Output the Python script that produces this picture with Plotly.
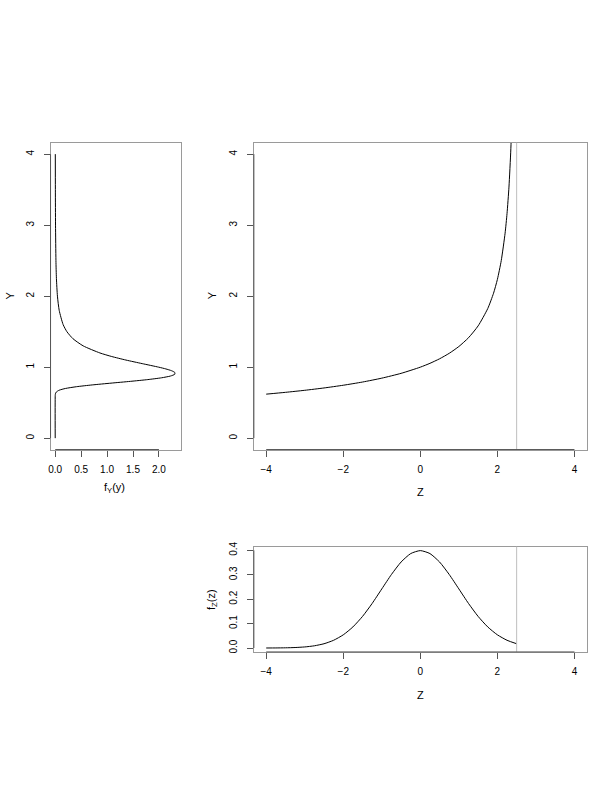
import plotly.graph_objects as go

# ---- data ----
# main panel: Y as a function of Z
z_main = [-4, -3.5, -3, -2.5, -2, -1.5, -1, -0.5, 0, 0.25, 0.5, 0.75, 1, 1.25, 1.5,
          1.75, 1.9, 2.0, 2.1, 2.2, 2.25, 2.3, 2.35, 2.4]
y_main = [0.620, 0.6455, 0.6742, 0.7071, 0.7454, 0.7906, 0.8452, 0.9129, 1.0, 1.0541,
          1.1180, 1.1952, 1.2910, 1.4142, 1.5811, 1.8257, 2.0412, 2.2361, 2.5, 2.8868,
          3.1623, 3.5355, 4.0825, 5.0]

# bottom panel: density of Z
z_dens = [-4, -3.75, -3.5, -3.25, -3, -2.75, -2.5, -2.25, -2, -1.75, -1.5, -1.25, -1,
          -0.75, -0.5, -0.25, 0, 0.25, 0.5, 0.75, 1, 1.25, 1.5, 1.75, 2, 2.25, 2.5]
fz_dens = [0.000134, 0.000353, 0.000873, 0.00203, 0.00443, 0.00909, 0.0175, 0.0317,
           0.0540, 0.0863, 0.1295, 0.1826, 0.2420, 0.3011, 0.3521, 0.3867, 0.3989,
           0.3867, 0.3521, 0.3011, 0.2420, 0.1826, 0.1295, 0.0863, 0.0540, 0.0317, 0.0175]

# left panel: density of Y
y_dens = [0, 0.6, 0.625, 0.65, 0.675, 0.7, 0.725, 0.75, 0.775, 0.8, 0.825, 0.85, 0.875,
          0.9, 0.925, 0.95, 0.975, 1.0, 1.05, 1.1, 1.15, 1.2, 1.3, 1.4, 1.5, 1.6, 1.8,
          2.0, 2.25, 2.5, 3.0, 3.5, 4.0]
fy_dens = [0, 0.0005, 0.0041, 0.0212, 0.0749, 0.197, 0.411, 0.714, 1.076, 1.449, 1.786,
           2.049, 2.222, 2.305, 2.306, 2.243, 2.134, 1.995, 1.677, 1.364, 1.089, 0.862,
           0.539, 0.3435, 0.2252, 0.1526, 0.0768, 0.0430, 0.0234, 0.0141, 0.0063,
           0.0033, 0.0020]

asymptote_z = 2.5

z_ticks = [-4, -2, 0, 2, 4]
z_ticklabels = ["\u22124", "\u22122", "0", "2", "4"]
y_ticks = [0, 1, 2, 3, 4]
fy_ticks = [0.0, 0.5, 1.0, 1.5, 2.0]
fy_ticklabels = ["0.0", "0.5", "1.0", "1.5", "2.0"]
fz_ticks = [0.0, 0.1, 0.2, 0.3, 0.4]
fz_ticklabels = ["0.0", "0.1", "0.2", "0.3", "0.4"]

# ---- figure ----
W, H = 612, 792
FONT = "Liberation Sans, Arial, Helvetica, sans-serif"
BOX = "#9a9a9a"
AX = "#555555"

def px_x(p):
    return p / W

def px_y(p):
    return 1 - p / H

fig = go.Figure()

line_style = dict(color="black", width=1, shape="spline", smoothing=0.6)
fig.add_trace(go.Scatter(x=fy_dens, y=y_dens, mode="lines", xaxis="x", yaxis="y",
                         line=line_style, showlegend=False, hoverinfo="skip"))
fig.add_trace(go.Scatter(x=z_main, y=y_main, mode="lines", xaxis="x2", yaxis="y2",
                         line=line_style, showlegend=False, hoverinfo="skip"))
fig.add_trace(go.Scatter(x=z_dens, y=fz_dens, mode="lines", xaxis="x3", yaxis="y3",
                         line=line_style, showlegend=False, hoverinfo="skip"))

common = dict(showgrid=False, zeroline=False, showline=True, linecolor=BOX, linewidth=1,
              mirror=True, ticks="outside", ticklen=6, tickcolor=AX, tickwidth=1,
              tickfont=dict(family=FONT, size=10, color="black"), fixedrange=True)

left_x = [px_x(48.7), px_x(179.3)]
main_x = [px_x(252.7), px_x(586.7)]
top_y = [px_y(448.5), px_y(139)]
bot_y = [px_y(652.7), px_y(546.5)]

fig.update_layout(
    width=W, height=H, margin=dict(l=0, r=0, t=0, b=0),
    paper_bgcolor="white", plot_bgcolor="white", showlegend=False,
    font=dict(family=FONT, size=10, color="black"),
    xaxis=dict(domain=left_x, anchor="y", range=[-0.09, 2.42],
               tickvals=fy_ticks, ticktext=fy_ticklabels, ticklabelstandoff=4, **common),
    yaxis=dict(domain=top_y, anchor="x", range=[-0.16, 4.16],
               tickvals=y_ticks, tickangle=-90, ticklabelstandoff=6, **common),
    xaxis2=dict(domain=main_x, anchor="y2", range=[-4.32, 4.32],
                tickvals=z_ticks, ticktext=z_ticklabels, ticklabelstandoff=4, **common),
    yaxis2=dict(domain=top_y, anchor="x2", range=[-0.16, 4.16],
                tickvals=y_ticks, tickangle=-90, ticklabelstandoff=6, **common),
    xaxis3=dict(domain=main_x, anchor="y3", range=[-4.32, 4.32],
                tickvals=z_ticks, ticktext=z_ticklabels, ticklabelstandoff=4, **common),
    yaxis3=dict(domain=bot_y, anchor="x3", range=[-0.016, 0.415],
                tickvals=fz_ticks, ticktext=fz_ticklabels, tickangle=-90,
                ticklabelstandoff=6, **common),
)

# vertical asymptote lines
for xr, yr in [("x2", "y2 domain"), ("x3", "y3 domain")]:
    fig.add_shape(type="line", xref=xr, yref=yr, x0=asymptote_z, x1=asymptote_z,
                  y0=0, y1=1, line=dict(color="#bebebe", width=1))

# darker axis segments between first and last ticks (R style)
def axis_seg_x(xr, yr, lo, hi):
    fig.add_shape(type="line", xref=xr, yref=yr, x0=lo, x1=hi, y0=0, y1=0,
                  line=dict(color=AX, width=1))

def axis_seg_y(xr, yr, lo, hi):
    fig.add_shape(type="line", xref=xr, yref=yr, x0=0, x1=0, y0=lo, y1=hi,
                  line=dict(color=AX, width=1))

axis_seg_x("x", "y domain", fy_ticks[0], fy_ticks[-1])
axis_seg_y("x domain", "y", y_ticks[0], y_ticks[-1])
axis_seg_x("x2", "y2 domain", z_ticks[0], z_ticks[-1])
axis_seg_y("x2 domain", "y2", y_ticks[0], y_ticks[-1])
axis_seg_x("x3", "y3 domain", z_ticks[0], z_ticks[-1])
axis_seg_y("x3 domain", "y3", fz_ticks[0], fz_ticks[-1])

# axis titles
def title(text, xp, yp, angle=0):
    fig.add_annotation(text=text, x=px_x(xp), y=px_y(yp), xref="paper", yref="paper",
                       showarrow=False, textangle=angle, xanchor="center", yanchor="middle",
                       font=dict(family=FONT, size=11, color="black"))

title("Y", 8, 293, -90)
title("f<sub>Y</sub>(y)", 113, 487)
title("Y", 211.5, 293, -90)
title("Z", 420, 491)
title("f<sub>Z</sub>(z)", 210, 600, -90)
title("Z", 420, 696)

fig.write_html("out.html",
               config={"displayModeBar": False, "staticPlot": True},
               post_script="document.body.style.margin='0px';document.body.style.padding='0px';")
